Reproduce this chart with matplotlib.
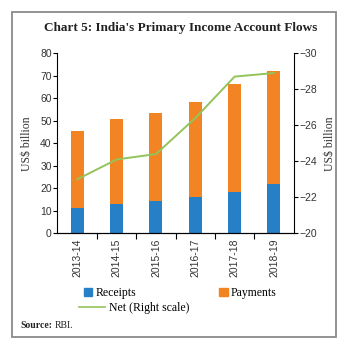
import matplotlib
matplotlib.use("Agg")
import matplotlib.pyplot as plt
from matplotlib.patches import Rectangle
from matplotlib.lines import Line2D
import numpy as np

years = ["2013-14", "2014-15", "2015-16", "2016-17", "2017-18", "2018-19"]
receipts = [11.2, 12.9, 14.5, 16.3, 18.5, 21.8]
payments = [34.4, 37.8, 39.0, 42.1, 47.7, 50.5]
net = [-23.0, -24.1, -24.4, -26.4, -28.7, -28.9]

blue = "#2780c6"
orange = "#f28424"
green = "#92c45a"
tick_font = "Liberation Sans"
serif = "Liberation Serif"

fig = plt.figure(figsize=(3.61, 3.54), dpi=100)
fig.patches.append(Rectangle((12/361, 1-337/354), 324/361, 325/354, transform=fig.transFigure,
                             fill=False, edgecolor="#8a8a8a", lw=1.3))

ax = fig.add_axes([0.1587, 0.341, 0.6557, 0.5087])
x = np.arange(len(years))
ax.bar(x, receipts, width=0.33, color=blue, label="Receipts")
ax.bar(x, payments, width=0.33, bottom=receipts, color=orange, label="Payments")
ax.set_xlim(-0.51, 5.51)
ax.set_ylim(0, 80)
ax.set_yticks(range(0, 81, 10))
ax.set_xticks(x)
ax.set_xticklabels(years, rotation=90, fontsize=7.5, family=tick_font, color="#333333")
ax.set_xticks(x[:-1] + 0.5, minor=True)
ax.tick_params(axis="x", which="major", length=0, pad=4)
ax.tick_params(axis="x", which="minor", length=4, width=0.8)
ax.tick_params(axis="y", length=3, width=0.8, labelsize=7.5, pad=1, labelcolor="#333333")
for lab in ax.get_yticklabels():
    lab.set_family(tick_font)
ax.spines["top"].set_visible(False)
ax.spines["right"].set_visible(False)
ax.set_ylabel("US$ billion", fontsize=8.5, family=serif, color="#333333", labelpad=5)

ax2 = ax.twinx()
ax2.plot(x, net, color=green, lw=1.4)
ax2.set_ylim(-20, -30)
ax2.set_yticks(range(-20, -31, -2))
ax2.tick_params(axis="y", length=3, width=0.8, labelsize=7.5, pad=1, labelcolor="#333333")
for lab in ax2.get_yticklabels():
    lab.set_family(tick_font)
ax2.spines["top"].set_visible(False)
ax2.spines["left"].set_visible(False)
ax2.set_ylabel("US$ billion", fontsize=8.5, family=serif, color="#333333", labelpad=5)

fig.text(0.5, 1-28/354, "Chart 5: India's Primary Income Account Flows", ha="center", va="center",
         fontsize=9.5, fontweight="bold", family=serif, color="#222222")

handles = [Rectangle((0, 0), 1, 1, color=blue), Rectangle((0, 0), 1, 1, color=orange),
           Line2D([], [], color=green, lw=1.2)]
labels = ["Receipts", "Payments", "Net (Right scale)"]
fig.legend(handles[:2], labels[:2], loc="center", bbox_to_anchor=(0.5, 1-293/354), ncol=2,
           frameon=False, prop={"family": serif, "size": 8.5}, handlelength=0.7, handleheight=0.7,
           handletextpad=0.3, columnspacing=7.0)
fig.legend(handles[2:], labels[2:], loc="center", bbox_to_anchor=(0.372, 1-308/354),
           frameon=False, prop={"family": serif, "size": 8.5}, handlelength=2.2, handletextpad=0.4)

src = fig.text(20/361, 1-325/354, "Source:", fontsize=7, fontweight="bold", family=serif,
               ha="left", va="center", color="#222222")
bb = src.get_window_extent(renderer=fig.canvas.get_renderer())
fig.text((bb.x1 + 3) / fig.bbox.width, 1-325/354, "RBI.", fontsize=7, family=serif,
         ha="left", va="center", color="#222222")

fig.savefig("out.png", dpi=100)
